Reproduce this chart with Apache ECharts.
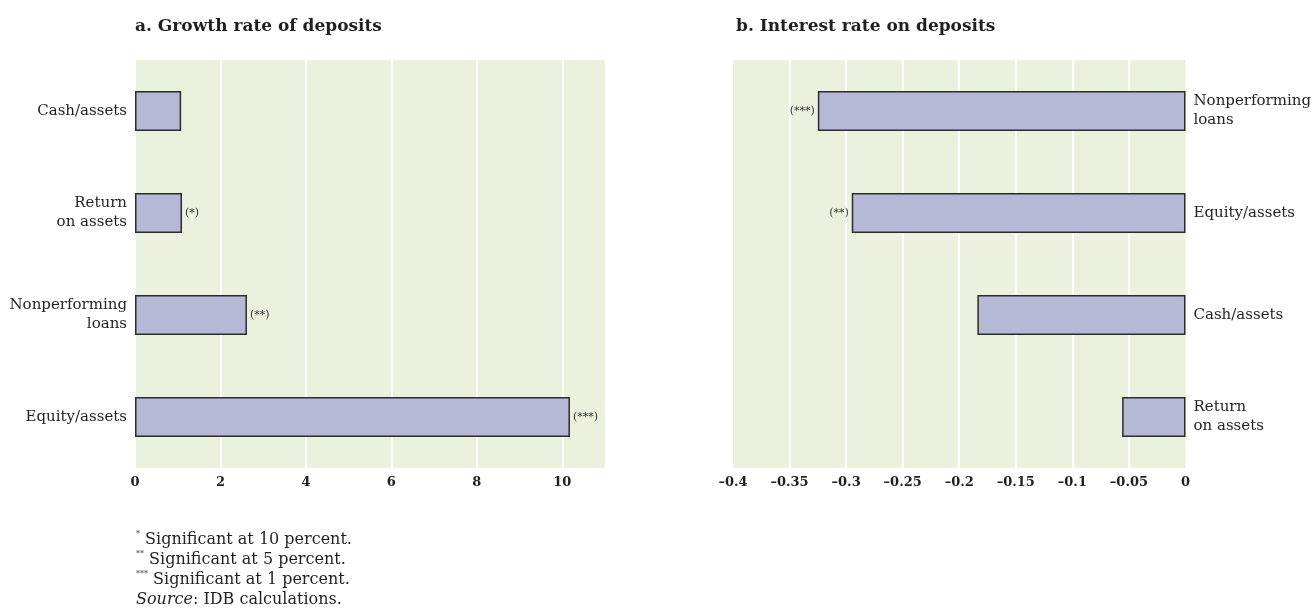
<!DOCTYPE html>
<html>
<head>
<meta charset="utf-8">
<script src="https://cdn.jsdelivr.net/npm/echarts@6/dist/echarts.min.js"></script>
<style>
  html, body { margin: 0; padding: 0; background: #fff; }
  #chart { width: 1314px; height: 611px; }
</style>
</head>
<body>
<div id="chart"></div>
<script>
// panel a: growth rate of deposits
var leftCats = ['Cash/assets', 'Return\non assets', 'Nonperforming\nloans', 'Equity/assets'];
var leftVals = [1.08, 1.1, 2.62, 10.18];
var leftSig = ['', '(*)', '(**)', '(***)'];
var leftTicks = [0, 2, 4, 6, 8, 10];

// panel b: interest rate on deposits
var rightCats = ['Nonperforming\nloans', 'Equity/assets', 'Cash/assets', 'Return\non assets'];
var rightVals = [-0.325, -0.295, -0.184, -0.056];
var rightSig = ['(***)', '(**)', '', ''];
var rightTicks = [-0.4, -0.35, -0.3, -0.25, -0.2, -0.15, -0.1, -0.05, 0];
var rightInner = [-0.35, -0.3, -0.25, -0.2, -0.15, -0.1, -0.05];

var serif = 'DejaVu Serif';
var ink = '#231f20';
var plotBg = '#eaf1dd';
var barFill = '#b7b8d6';

var chart = echarts.init(document.getElementById('chart'));

function valueAxis(idx, min, max, interval, labelVals, tickVals, fmt) {
  return {
    type: 'value',
    gridIndex: idx,
    min: min,
    max: max,
    interval: interval,
    axisLine: { show: false },
    axisTick: { show: false, customValues: tickVals },
    splitLine: { show: true, lineStyle: { color: '#fff', width: 2 } },
    axisLabel: {
      customValues: labelVals,
      color: ink,
      fontFamily: serif,
      fontWeight: 'bold',
      fontSize: 13,
      margin: 8,
      formatter: fmt
    }
  };
}

function catAxis(idx, cats, pos) {
  return {
    type: 'category',
    gridIndex: idx,
    data: cats,
    inverse: true,
    position: pos,
    axisLine: { show: false },
    axisTick: { show: false },
    axisLabel: {
      color: ink,
      fontFamily: serif,
      fontSize: 15,
      lineHeight: 19,
      margin: 8,
      align: pos === 'left' ? 'right' : 'left'
    }
  };
}

function barSeries(idx, vals, sig, pos) {
  return {
    type: 'bar',
    xAxisIndex: idx,
    yAxisIndex: idx,
    data: vals,
    barWidth: 40,
    itemStyle: { color: barFill, borderColor: '#2b2b2b', borderWidth: 1.5 },
    label: {
      show: true,
      position: pos,
      distance: 3,
      color: '#333',
      fontFamily: serif,
      fontSize: 11,
      formatter: function (p) { return sig[p.dataIndex]; }
    },
    silent: true
  };
}

var option = {
  animation: false,
  title: [{
    text: 'a. Growth rate of deposits',
    left: 130, top: 13,
    textStyle: { fontFamily: serif, fontWeight: 'bold', fontSize: 17, color: ink }
  }, {
    text: 'b. Interest rate on deposits',
    left: 731, top: 13,
    textStyle: { fontFamily: serif, fontWeight: 'bold', fontSize: 17, color: ink }
  }, {
    text: '{s|*} Significant at 10 percent.\n{s|**} Significant at 5 percent.\n{s|***} Significant at 1 percent.\n{i|Source}: IDB calculations.',
    left: 131, top: 525,
    textStyle: {
      fontFamily: serif, fontSize: 16, fontWeight: 'normal', color: ink, lineHeight: 20,
      rich: {
        s: { fontFamily: serif, fontSize: 8, color: ink, verticalAlign: 'top', lineHeight: 20 },
        i: { fontFamily: serif, fontSize: 16, fontStyle: 'italic', color: ink, lineHeight: 20 }
      }
    }
  }],
  grid: [
    { left: 135, right: 709, top: 60, bottom: 143, show: true, backgroundColor: plotBg, borderWidth: 0 },
    { left: 733, right: 125, top: 60, bottom: 143, show: true, backgroundColor: plotBg, borderWidth: 0 }
  ],
  xAxis: [
    valueAxis(0, 0, 11, 2, leftTicks, leftTicks, function (v) { return String(v); }),
    valueAxis(1, -0.4, 0, 0.05, rightTicks, rightInner, function (v) {
      return v === 0 ? '0' : '\u2013' + String(Math.abs(v));
    })
  ],
  yAxis: [
    catAxis(0, leftCats, 'left'),
    catAxis(1, rightCats, 'right')
  ],
  series: [
    barSeries(0, leftVals, leftSig, 'right'),
    barSeries(1, rightVals, rightSig, 'left')
  ]
};

chart.setOption(option);
</script>
</body>
</html>
